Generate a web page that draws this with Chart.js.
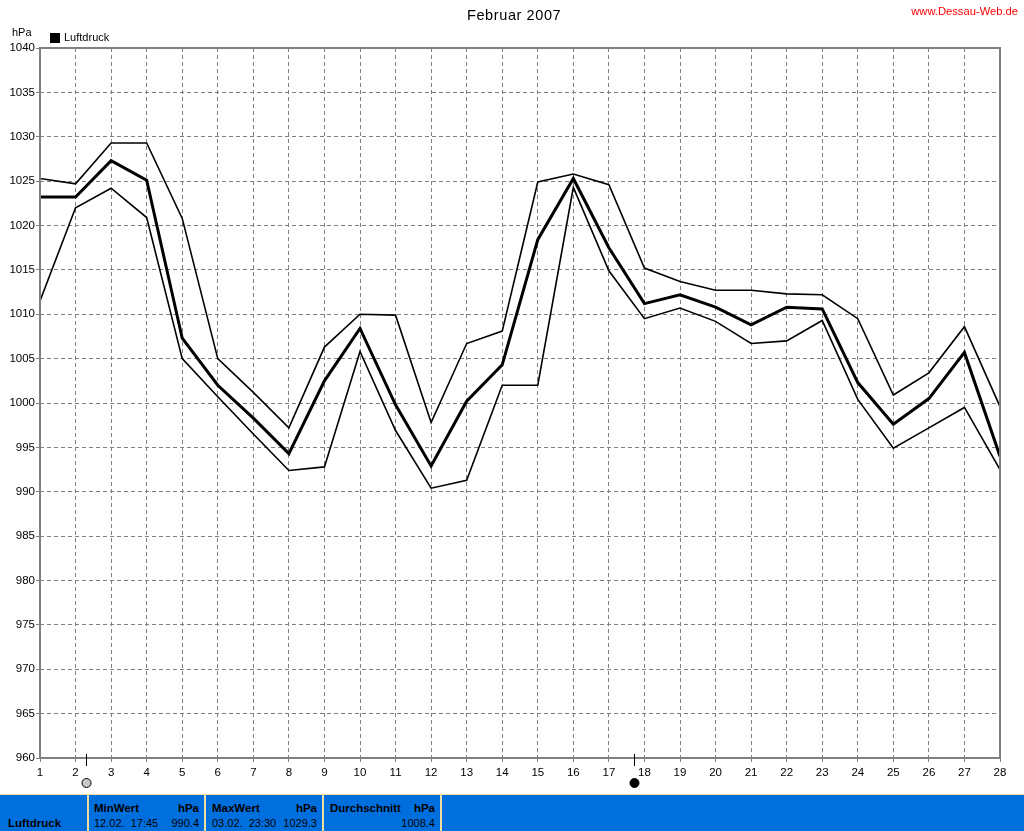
<!DOCTYPE html>
<html>
<head>
<meta charset="utf-8">
<title>Februar 2007</title>
<script src="https://cdn.jsdelivr.net/npm/chart.js@4/dist/chart.umd.min.js"></script>
<style>
    body { margin: 0; background: #fff; overflow: hidden; font-family: "Liberation Sans", Arial, sans-serif; color: #000; }
    #wrap { position: relative; width: 1024px; height: 831px; overflow: hidden; }
    canvas { position: absolute; left: 0; top: 0; }
    .lbl { position: absolute; white-space: nowrap; }
    #title { left: 467px; top: 7px; font-size: 14.5px; letter-spacing: 0.6px; }
    #site { right: 6px; top: 5px; font-size: 11.2px; color: #f00; }
    #unit { left: 12px; top: 26px; font-size: 11px; }
    #swatch { position: absolute; left: 50px; top: 33px; width: 10px; height: 10px; background: #000; }
    #legend { left: 64px; top: 31px; font-size: 11px; }
    #bar { position: absolute; left: 0; top: 794px; width: 1024px; height: 37px; background: #f0dca0; }
    .cell { position: absolute; top: 795px; height: 36px; background: #006fde; font-size: 11px; }
    .cell span, .cell b { position: absolute; white-space: nowrap; }
    .cell b { font-size: 11.5px; }
</style>
</head>
<body>
<div id="wrap">
    <canvas id="druck" width="1024" height="794"></canvas>
    <div class="lbl" id="title">Februar 2007</div>
    <div class="lbl" id="site">www.Dessau-Web.de</div>
    <div class="lbl" id="unit">hPa</div>
    <div id="swatch"></div>
    <div class="lbl" id="legend">Luftdruck</div>

    <div id="bar"></div>
    <div class="cell" style="left:0;width:87px"><b style="left:8px;top:22px">Luftdruck</b></div>
    <div class="cell" style="left:89px;width:115px">
        <b style="left:5px;top:7px">MinWert</b><b style="right:5px;top:7px">hPa</b>
        <span style="left:5px;top:22px">12.02.&nbsp; 17:45</span><span style="right:5px;top:22px">990.4</span>
    </div>
    <div class="cell" style="left:206px;width:116px">
        <b style="left:6px;top:7px">MaxWert</b><b style="right:5px;top:7px">hPa</b>
        <span style="left:6px;top:22px">03.02.&nbsp; 23:30</span><span style="right:5px;top:22px">1029.3</span>
    </div>
    <div class="cell" style="left:324px;width:116px">
        <b style="left:6px;top:7px">Durchschnitt</b><b style="right:5px;top:7px">hPa</b>
        <span style="right:5px;top:22px">1008.4</span>
    </div>
    <div class="cell" style="left:442px;width:582px"></div>
</div>

<script>
var days = [1,2,3,4,5,6,7,8,9,10,11,12,13,14,15,16,17,18,19,20,21,22,23,24,25,26,27,28];

var maxWert = [1025.3,1024.7,1029.3,1029.3,1020.8,1005.0,1001.2,997.2,1006.3,1010.0,1009.9,997.8,1006.7,1008.1,
               1024.9,1025.8,1024.6,1015.2,1013.7,1012.7,1012.7,1012.3,1012.2,1009.5,1000.9,1003.4,1008.6,999.6];
var mittel  = [1023.2,1023.2,1027.3,1025.1,1007.3,1002.0,998.3,994.3,1002.5,1008.4,999.8,992.9,1000.2,1004.3,
               1018.4,1025.3,1017.5,1011.2,1012.2,1010.8,1008.8,1010.8,1010.6,1002.3,997.6,1000.5,1005.7,994.0];
var minWert = [1011.5,1022.0,1024.2,1020.9,1005.0,1000.7,996.5,992.4,992.8,1005.8,996.9,990.4,991.3,1002.0,
               1002.0,1024.3,1014.9,1009.5,1010.7,1009.2,1006.7,1007.0,1009.3,1000.4,994.9,997.2,999.5,992.5];

// moon phases, position on the day axis
var vollmond = [2.3];
var neumond = [17.7];

function points(values) {
    return values.map(function (v, i) { return { x: days[i], y: v }; });
}

function line(values, width) {
    return {
        data: points(values),
        borderColor: '#000',
        borderWidth: width,
        pointRadius: 0,
        tension: 0,
        borderJoinStyle: 'miter'
    };
}

// frame round the plot and the moon symbols under the axis
var extras = {
    id: 'extras',
    afterDatasetsDraw: function (chart) {
        var c = chart.ctx, a = chart.chartArea;
        c.save();
        c.strokeStyle = '#808080';
        c.lineWidth = 2;
        c.strokeRect(a.left, a.top, a.right - a.left, a.bottom - a.top);
        c.restore();
    },
    afterDraw: function (chart) {
        var c = chart.ctx, x = chart.scales.x, a = chart.chartArea;
        function moon(day, fill) {
            var px = Math.round(x.getPixelForValue(day));
            c.save();
            c.strokeStyle = '#000';
            c.lineWidth = 1;
            c.beginPath();
            c.moveTo(px + 0.5, a.bottom - 4);
            c.lineTo(px + 0.5, a.bottom + 8);
            c.stroke();
            c.beginPath();
            c.arc(px + 0.5, 783, 4.5, 0, Math.PI * 2);
            c.fillStyle = fill;
            c.fill();
            c.stroke();
            c.restore();
        }
        vollmond.forEach(function (d) { moon(d, '#c8c8c8'); });
        neumond.forEach(function (d) { moon(d, '#000'); });
    }
};

var ctx = document.getElementById('druck').getContext('2d');
var chart = new Chart(ctx, {
    type: 'line',
    data: {
        datasets: [line(maxWert, 1.6), line(minWert, 1.6), line(mittel, 3)]
    },
    options: {
        responsive: false,
        animation: false,
        layout: { padding: { top: 48, right: 24, left: 0, bottom: 0 } },
        plugins: { legend: { display: false }, title: { display: false }, tooltip: { enabled: false } },
        scales: {
            x: {
                type: 'linear',
                min: 1,
                max: 28,
                afterFit: function (s) { s.height = 36; },
                ticks: { stepSize: 1, autoSkip: false, maxRotation: 0, color: '#000', padding: 4, font: { family: 'Liberation Sans', size: 11.5 } },
                grid: { color: '#808080', lineWidth: 1, tickLength: 4, tickColor: '#808080', tickBorderDash: [] },
                border: { display: false, dash: [4, 3] }
            },
            y: {
                min: 960,
                max: 1040,
                afterFit: function (s) { s.width = 40; },
                ticks: {
                    stepSize: 5,
                    color: '#000',
                    padding: 1,
                    font: { family: 'Liberation Sans', size: 11.5 },
                    callback: function (v) { return String(v); }
                },
                grid: { color: '#808080', lineWidth: 1, tickLength: 4, tickColor: '#808080', tickBorderDash: [] },
                border: { display: false, dash: [4, 3] }
            }
        }
    },
    plugins: [extras]
});
</script>
</body>
</html>
